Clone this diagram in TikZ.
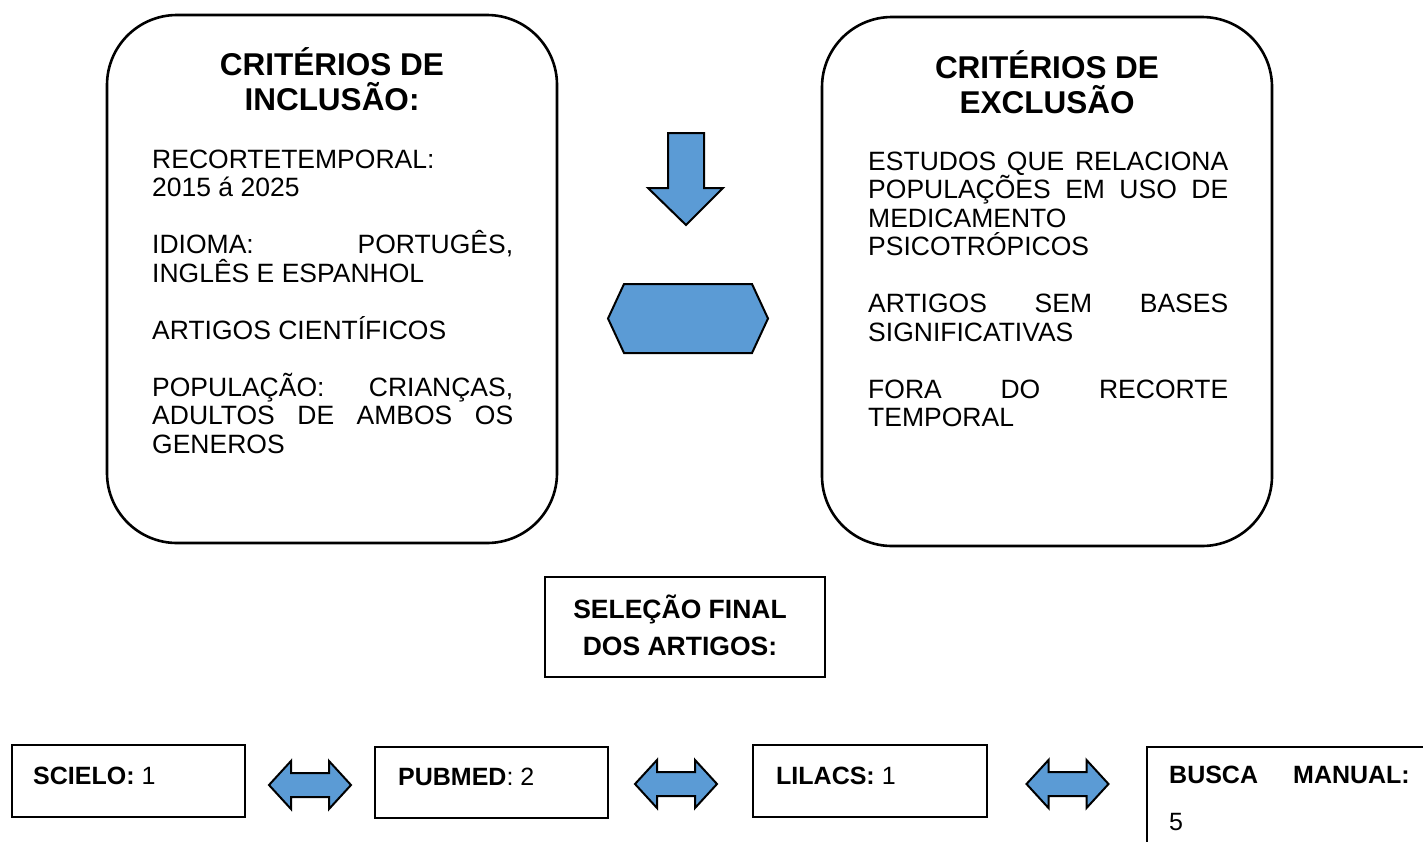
\documentclass[tikz,border=0pt]{standalone}
\usepackage{fontspec}
\setmainfont{Liberation Sans}
\definecolor{arrowblue}{HTML}{5B9BD5}
\begin{document}
\begin{tikzpicture}[x=1pt,y=-1pt,
  roundbox/.style={draw=black,line width=2.6pt,rounded corners=70pt,inner sep=0pt},
  plainbox/.style={draw=black,line width=2.4pt,inner sep=0pt},
  blockshape/.style={draw=black,line width=2pt,fill=arrowblue,line join=miter},
  bodytxt/.style={inner sep=0pt,anchor=base west,font=\fontsize{26.5}{28.5}\selectfont},
  titletxt/.style={inner sep=0pt,anchor=base,font=\fontsize{31.5}{35}\selectfont\bfseries},
  seltxt/.style={inner sep=0pt,anchor=base,font=\fontsize{26.5}{30}\selectfont\bfseries},
  srctxt/.style={inner sep=0pt,anchor=base west,font=\fontsize{25}{28}\selectfont},
  dblarrow/.pic={\draw[blockshape] (-41,0) -- (-19,-24) -- (-19,-12) -- (19,-12) -- (19,-24) -- (41,0) -- (19,24) -- (19,12) -- (-19,12) -- (-19,24) -- cycle;}
]
\useasboundingbox (0,0) rectangle (1423,841);
\clip (0,0) rectangle (1423,841);

% inclusion box
\node[roundbox,minimum width=450pt,minimum height=528pt] (incl) at (332,279) {};
\node[titletxt] (it1) at (332,75) {CRITÉRIOS DE};
\node[titletxt] (it2) at (332,110) {INCLUSÃO:};
\node[bodytxt] (i1) at (152,168) {RECORTETEMPORAL:};
\node[bodytxt] (i2) at (152,196.5) {2015 á 2025};
\node[bodytxt] (i3) at (152,253.5) {\makebox[361pt][s]{IDIOMA: PORTUGÊS,}};
\node[bodytxt] (i4) at (152,282) {INGLÊS E ESPANHOL};
\node[bodytxt] (i5) at (152,339) {ARTIGOS CIENTÍFICOS};
\node[bodytxt] (i6) at (152,396) {\makebox[361pt][s]{POPULAÇÃO: CRIANÇAS,}};
\node[bodytxt] (i7) at (152,424.5) {\makebox[361pt][s]{ADULTOS DE AMBOS OS}};
\node[bodytxt] (i8) at (152,453) {GENEROS};

% exclusion box
\node[roundbox,minimum width=450pt,minimum height=529pt] (excl) at (1047,281.5) {};
\node[titletxt] (et1) at (1047,78) {CRITÉRIOS DE};
\node[titletxt] (et2) at (1047,113) {EXCLUSÃO};
\node[bodytxt] (e1) at (868,170) {\makebox[360pt][s]{ESTUDOS QUE RELACIONA}};
\node[bodytxt] (e2) at (868,198.5) {\makebox[360pt][s]{POPULAÇÕES EM USO DE}};
\node[bodytxt] (e3) at (868,227) {MEDICAMENTO};
\node[bodytxt] (e4) at (868,255.5) {PSICOTRÓPICOS};
\node[bodytxt] (e5) at (868,312.5) {\makebox[360pt][s]{ARTIGOS SEM BASES}};
\node[bodytxt] (e6) at (868,341) {SIGNIFICATIVAS};
\node[bodytxt] (e7) at (868,398) {\makebox[360pt][s]{FORA DO RECORTE}};
\node[bodytxt] (e8) at (868,426.5) {TEMPORAL};

% down arrow and hexagon
\draw[blockshape] (668,133) -- (704,133) -- (704,188) -- (723,188) -- (686,225) -- (648,188) -- (668,188) -- cycle;
\draw[blockshape] (608,318.5) -- (624,284) -- (752,284) -- (768,318.5) -- (752,353) -- (624,353) -- cycle;

% final selection
\node[plainbox,minimum width=280pt,minimum height=100pt] (sel) at (685,627) {};
\node[seltxt] (s1) at (680,618) {SELEÇÃO FINAL};
\node[seltxt] (s2) at (680,655) {DOS ARTIGOS:};

% sources
\node[plainbox,minimum width=233pt,minimum height=72pt] (scielo) at (128.5,781) {};
\node[srctxt] (scielot) at (33,784) {\textbf{SCIELO:} 1};
\node[plainbox,minimum width=233pt,minimum height=71pt] (pubmed) at (491.5,782.5) {};
\node[srctxt] (pubmedt) at (398,785) {\textbf{PUBMED}: 2};
\node[plainbox,minimum width=234pt,minimum height=72pt] (lilacs) at (870,781) {};
\node[srctxt] (lilacst) at (776,784) {\textbf{LILACS:} 1};
\node[plainbox,minimum width=320pt,minimum height=130pt,anchor=north west] (busca) at (1146,746) {};
\node[srctxt] (buscat1) at (1169,783) {\textbf{BUSCA}};
\node[srctxt,anchor=base east] (buscat2) at (1410,783) {\textbf{MANUAL:}};
\node[srctxt] (buscat3) at (1169,830) {5};

\pic at (310,785) {dblarrow};
\pic at (676,784) {dblarrow};
\pic at (1067.5,784) {dblarrow};
\end{tikzpicture}
\end{document}
